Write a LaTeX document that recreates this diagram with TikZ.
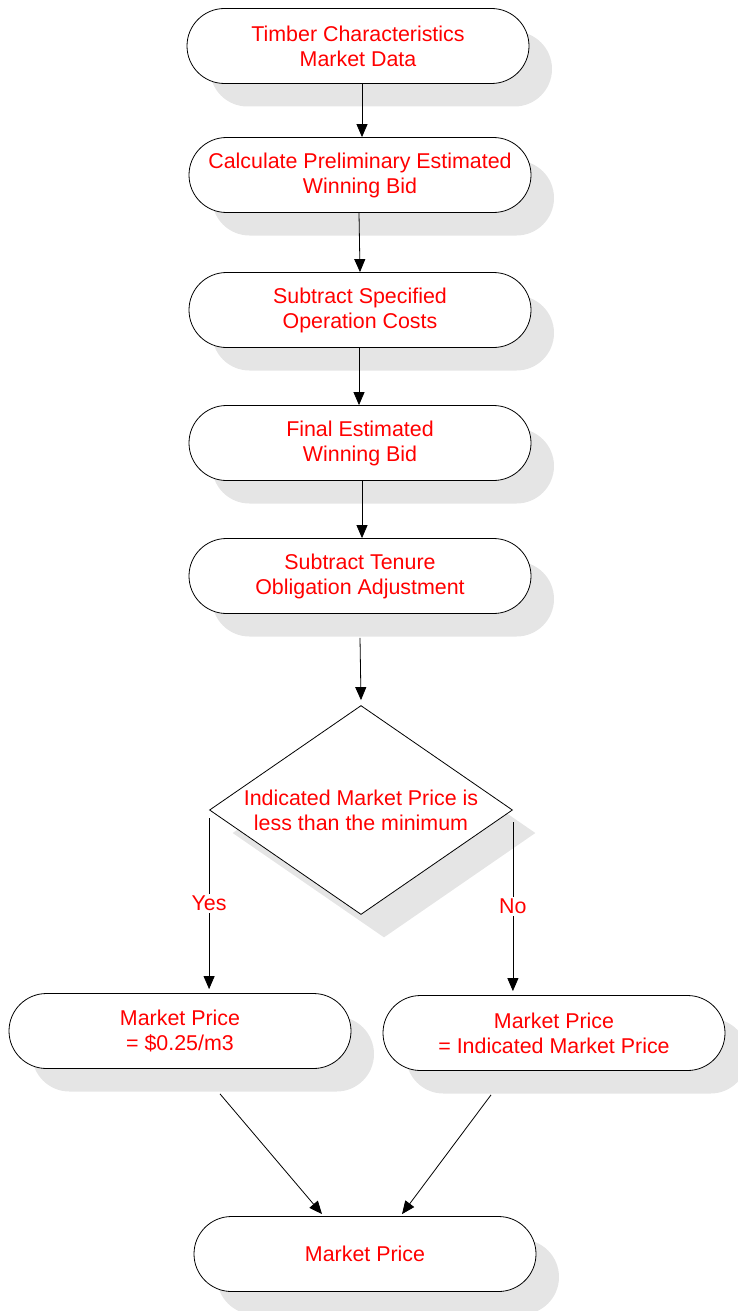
\documentclass[tikz,border=0pt]{standalone}
\usepackage{fontspec}
\setmainfont{Liberation Sans}
\usetikzlibrary{positioning,arrows.meta,shapes.geometric,shadows}

\begin{document}
\begin{tikzpicture}[x=1pt,y=-1pt,line width=0.8pt,
    shade/.style={drop shadow={shadow xshift=23pt,shadow yshift=-23pt,
                               fill=black!10,opacity=1}},
    box/.style={rectangle,rounded corners=37.5pt,draw=black,fill=white,shade,
                minimum width=342pt,minimum height=75pt,align=center,
                font=\fontsize{21.4}{25}\selectfont,text=red},
    decide/.style={diamond,draw=black,fill=white,shade,aspect=1.45,inner sep=0pt,
                   minimum width=303pt,minimum height=209pt,align=center,
                   font=\fontsize{21.4}{25}\selectfont,text=red},
    lbl/.style={fill=white,text=red,inner sep=2pt,font=\fontsize{21.4}{25}\selectfont},
    arr/.style={-{Triangle[length=13pt,width=11pt]}}]
  \useasboundingbox (0,0) rectangle (738,1311);
  % main column
  \node[box] (tcm) at (358,46) {Timber Characteristics\\Market Data};
  \node[box] (pewb) at (360,175) {Calculate Preliminary Estimated\\Winning Bid};
  \node[box] (soc) at (360,310) {Subtract Specified\\Operation Costs};
  \node[box] (fewb) at (360,443) {Final Estimated\\Winning Bid};
  \node[box] (toa) at (360,576) {Subtract Tenure\\Obligation Adjustment};
  \node[decide] (dec) at (361,810) {Indicated Market Price is\\less than the minimum};
  % outcomes
  \node[box] (mpmin) at (180,1031) {Market Price\\= \$0.25/m3};
  \node[box] (mpind) at (554,1033) {Market Price\\= Indicated Market Price};
  \node[box] (mp) at (365,1254) {Market Price};

  \draw[arr] ([xshift=4pt]tcm.south) -- ([xshift=2pt]pewb.north);
  \draw[arr] ([xshift=-1pt]pewb.south) -- (soc.north);
  \draw[arr] ([xshift=-1pt]soc.south) -- ([xshift=-1pt]fewb.north);
  \draw[arr] ([xshift=2pt]fewb.south) -- ([xshift=2pt]toa.north);
  \draw[arr] ([yshift=-24pt]toa.south) -- ([yshift=5pt]dec.north);
  \draw[arr] ([yshift=-8pt]dec.west) -- node[lbl] {Yes} ([yshift=4pt]dec.west |- mpmin.north);
  \draw[arr] ([yshift=-12pt]dec.east) -- node[lbl] {No} ([yshift=4pt]dec.east |- mpind.north);
  \draw[arr] ([xshift=40pt,yshift=-25pt]mpmin.south) -- ([xshift=-43pt,yshift=2pt]mp.north);
  \draw[arr] ([xshift=-63pt,yshift=-24pt]mpind.south) -- ([xshift=37pt,yshift=2pt]mp.north);
\end{tikzpicture}
\end{document}
